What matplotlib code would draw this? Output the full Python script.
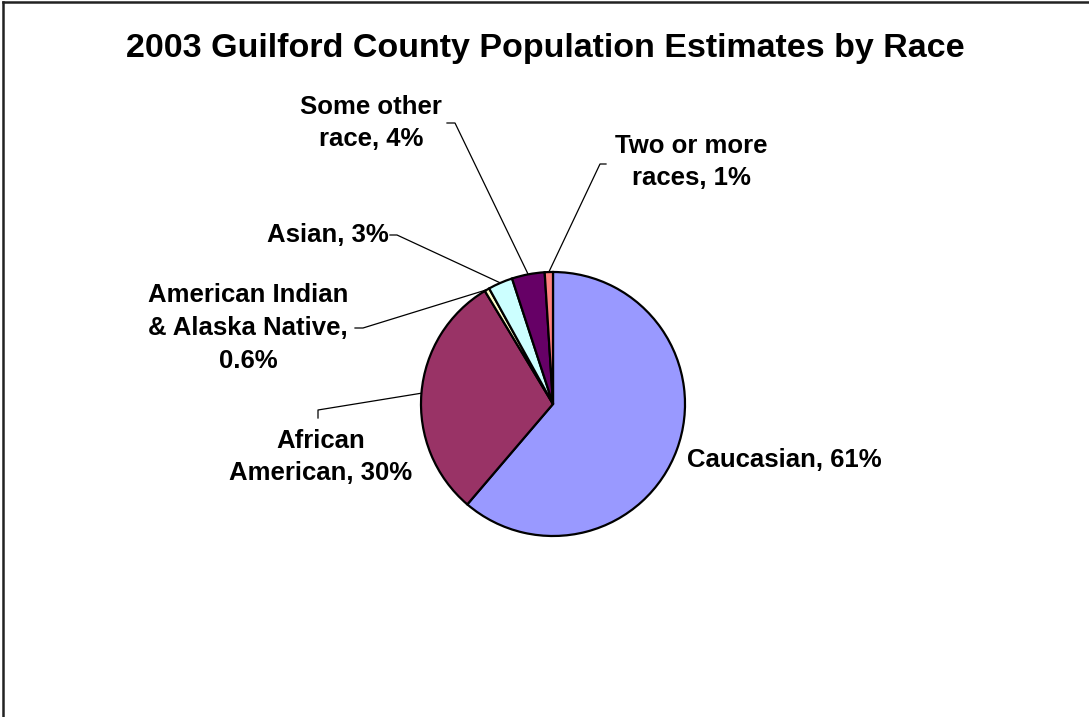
import matplotlib
matplotlib.use("Agg")
import matplotlib.pyplot as plt
import numpy as np

# 2003 Guilford County population shares by race (percent)
races = ["Caucasian", "African\nAmerican", "American Indian\n& Alaska Native",
         "Asian", "Some other\nrace", "Two or more\nraces"]
shares = [61, 30, 0.6, 3, 4, 1]
share_text = ["61%", "30%", "0.6%", "3%", "4%", "1%"]
colors = ["#9999FF", "#993366", "#FFFFCC", "#CCFFFF", "#660066", "#FF8080"]

W, H = 1089, 717
plt.rcParams['font.family'] = ['Liberation Sans', 'DejaVu Sans']

fig = plt.figure(figsize=(W / 100, H / 100), dpi=100)
ax = fig.add_axes([0, 0, 1, 1])

cx, cy, r = 553, H - 404, 132
wedges, _ = ax.pie(shares, colors=colors, startangle=90, counterclock=False,
                   center=(cx, cy), radius=r,
                   wedgeprops=dict(edgecolor='black', linewidth=1.6))
ax.set_xlim(0, W)
ax.set_ylim(0, H)
ax.set_aspect('equal')
ax.axis('off')

# label placement (x, y from top, alignment) and leader elbow points
label_pos = [
    (687, 460, 'left', None),
    (321, 457, 'center', [(318, 418), (318, 410)]),
    (248, 328, 'center', [(355, 328), (363, 328)]),
    (389, 235, 'right', [(390, 235), (397, 235)]),
    (371, 123, 'center', [(447, 123), (455, 123)]),
    (691, 162, 'center', [(606, 164), (600, 164)]),
]

for w, name, txt, (lx, ly, ha, elbow) in zip(wedges, races, share_text, label_pos):
    label = f"{name}, {txt}"
    if name == "American Indian\n& Alaska Native":
        label = f"{name},\n{txt}"
    ax.text(lx, H - ly, label, ha=ha, va='center', multialignment='center',
            fontsize=18.5, fontweight='bold', linespacing=1.45)
    if elbow is None:
        continue
    mid = np.deg2rad((w.theta1 + w.theta2) / 2)
    ex, ey = cx + r * np.cos(mid), cy + r * np.sin(mid)
    xs = [p[0] for p in elbow] + [ex]
    ys = [H - p[1] for p in elbow] + [ey]
    ax.plot(xs, ys, color='black', linewidth=0.9, zorder=0)

fig.text(545 / W, 1 - 48 / H, "2003 Guilford County Population Estimates by Race",
         ha='center', va='center', fontsize=24.5, fontweight='bold')

# chart area border (top and left edges)
fig.add_artist(plt.Line2D([3 / W, 3 / W], [0, 1 - 2 / H], color='#222222', linewidth=1.8))
fig.add_artist(plt.Line2D([3 / W, 1], [1 - 2 / H, 1 - 2 / H], color='#222222', linewidth=1.8))

fig.savefig("out.png", dpi=100, facecolor='white')
